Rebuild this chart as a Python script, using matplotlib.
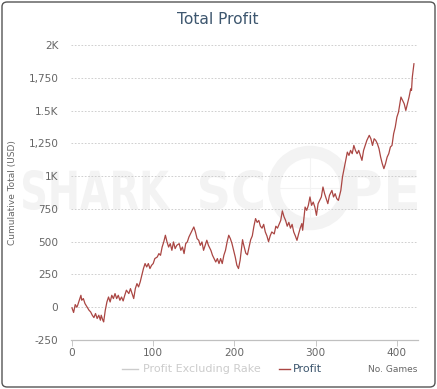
import matplotlib
matplotlib.use("Agg")

import matplotlib.pyplot as plt
from matplotlib.patches import FancyBboxPatch, PathPatch, Circle
from matplotlib.lines import Line2D
from matplotlib.textpath import TextPath
from matplotlib.font_manager import FontProperties
from matplotlib.transforms import Affine2D, IdentityTransform

# data (game number, cumulative profit in USD)
games = [0, 2, 4, 6, 7, 11, 12, 14, 16, 18,
         21, 23, 25, 27, 29, 31, 33, 35, 36, 38,
         39, 41, 43, 45, 47, 49, 51, 53, 55, 57,
         59, 61, 63, 65, 67, 70, 72, 74, 76, 78,
         80, 82, 84, 86, 88, 90, 92, 94, 96, 98,
         100, 102, 105, 107, 109, 111, 113, 115, 117, 119,
         121, 123, 125, 127, 129, 132, 134, 136, 138, 140,
         142, 144, 146, 148, 150, 152, 154, 156, 158, 160,
         162, 164, 166, 168, 171, 173, 175, 177, 179, 181,
         183, 185, 187, 189, 191, 193, 195, 197, 199, 201,
         203, 205, 207, 210, 211, 214, 216, 218, 220, 222,
         224, 226, 228, 230, 232, 234, 236, 238, 240, 242,
         244, 246, 249, 251, 253, 255, 257, 259, 261, 263,
         265, 267, 269, 271, 273, 275, 277, 279, 281, 283,
         284, 287, 289, 291, 293, 295, 297, 299, 301, 303,
         305, 307, 309, 311, 313, 315, 317, 320, 322, 324,
         326, 328, 330, 331, 333, 335, 337, 339, 341, 343,
         345, 347, 349, 351, 353, 355, 357, 359, 361, 363,
         366, 368, 370, 372, 374, 376, 378, 380, 382, 384,
         386, 388, 390, 392, 394, 396, 398, 400, 402, 405,
         407, 409, 411, 413, 415, 417, 418, 419, 421]

profit = [-5, -40, 20, 0, 15, 91, 53, 66, 28, 8,
          -23, -36, -61, -79, -48, -86, -61, -99, -61, -99,
          -112, -23, 40, 78, 40, 91, 66, 104, 66, 91,
          53, 78, 48, 91, 130, 104, 142, 104, 66, 142,
          180, 155, 193, 244, 295, 333, 307, 333, 295, 320,
          333, 371, 383, 409, 396, 459, 498, 549, 498, 459,
          485, 434, 498, 447, 472, 485, 434, 459, 409, 485,
          498, 536, 562, 587, 612, 574, 523, 511, 472, 498,
          434, 472, 511, 472, 434, 396, 371, 345, 371, 333,
          371, 333, 396, 434, 498, 549, 523, 485, 434, 383,
          320, 295, 358, 515, 485, 412, 400, 456, 515, 544,
          618, 676, 647, 662, 618, 603, 632, 574, 544, 500,
          544, 574, 559, 618, 603, 632, 662, 735, 691, 662,
          618, 647, 603, 632, 574, 544, 510, 559, 603, 638,
          587, 764, 739, 777, 841, 777, 802, 764, 701, 790,
          815, 841, 917, 866, 828, 790, 853, 891, 841, 866,
          828, 815, 866, 891, 993, 1057, 1120, 1183, 1158, 1196,
          1171, 1234, 1196, 1171, 1196, 1158, 1120, 1196, 1234, 1272,
          1311, 1285, 1234, 1285, 1272, 1247, 1209, 1145, 1095, 1057,
          1095, 1145, 1171, 1222, 1234, 1323, 1374, 1450, 1488, 1603,
          1577, 1552, 1501, 1552, 1603, 1666, 1654, 1755, 1857]

y_ticks = [-250, 0, 250, 500, 750, 1000, 1250, 1500, 1750, 2000]
y_tick_labels = ["-250", "0", "250", "500", "750", "1K", "1,250", "1.5K", "1,750", "2K"]
x_ticks = [0, 100, 200, 300, 400]

W, H = 437, 389
TITLE_C = "#3E576F"
LABEL_C = "#666666"
RED = "#AA4643"
WM = "#F3F3F3"

fig = plt.figure(figsize=(W / 100, H / 100), dpi=100)
fig.patch.set_facecolor("white")

# rounded outer frame
frame = FancyBboxPatch((2 / W, 2 / H), (W - 4) / W, (H - 4) / H,
                       boxstyle="round,pad=0,rounding_size=0.012",
                       transform=fig.transFigure, facecolor="none",
                       edgecolor="#555555", linewidth=1.0, zorder=5)
fig.add_artist(frame)


# ---- watermark (drawn in pixel coordinates, y measured from top) ----
def wm_text(s, x0, x1, ytop, ybot):
    tp = TextPath((0, 0), s, size=100, prop=FontProperties(family="DejaVu Sans", weight="bold"))
    bb = tp.get_extents()
    sx = (x1 - x0) / bb.width
    sy = (ybot - ytop) / bb.height
    tr = Affine2D().translate(-bb.x0, -bb.y0).scale(sx, sy).translate(x0, H - ybot)
    p = PathPatch(tr.transform_path(tp), facecolor=WM, edgecolor="none",
                  transform=IdentityTransform(), zorder=-2)
    fig.add_artist(p)


wm_text("SHARK", 23, 170, 170, 210)
wm_text("SC", 200, 263, 170, 210)
wm_text("PE", 347, 417, 170, 210)
ring = Circle((310, H - 188), 36, facecolor="none", edgecolor=WM,
              linewidth=9, transform=IdentityTransform(), zorder=-2)
fig.add_artist(ring)
for seg in [((310, 310), (H - 150, H - 226)), ((272, 348), (H - 188, H - 188))]:
    fig.add_artist(Line2D(seg[0], seg[1], color=WM, linewidth=0.8,
                          transform=IdentityTransform(), zorder=-2))

# ---- plot area ----
ax = fig.add_axes([71 / W, 1 - 340 / H, 347 / W, 295 / H])
ax.set_facecolor("none")

ax.plot(games, profit, color=RED, linewidth=0.9, zorder=3)

ax.set_xlim(-1.2, 426)
ax.set_ylim(-250, 2000)

ax.set_yticks(y_ticks)
ax.set_yticklabels(y_tick_labels)
ax.set_xticks(x_ticks)

ax.grid(axis="y", color="#C8C8C8", linestyle=(0, (2, 2)), linewidth=0.6)
ax.set_axisbelow(True)

for side in ["top", "right", "left"]:
    ax.spines[side].set_visible(False)
ax.spines["bottom"].set_color("#C0C0C0")
ax.spines["bottom"].set_linewidth(0.9)

ax.tick_params(axis="y", length=0, pad=9, labelsize=7.6, labelcolor=LABEL_C)
ax.tick_params(axis="x", length=4, width=0.7, color="#C8C8C8", pad=2,
               labelsize=7.6, labelcolor=LABEL_C)

ax.set_ylabel("Cumulative Total (USD)", fontsize=6.5, color=LABEL_C, labelpad=8)

fig.text(218 / W, 1 - 19 / H, "Total Profit", ha="center", va="center",
         fontsize=11.2, color=TITLE_C)

# legend, drawn by hand to match the layout
ly = 1 - 369 / H
fig.add_artist(Line2D([122 / W, 138 / W], [ly, ly], color="#CCCCCC", linewidth=1.0,
                      transform=fig.transFigure))
fig.text(143 / W, ly, "Profit Excluding Rake", ha="left", va="center",
         fontsize=8, color="#CCCCCC")
fig.add_artist(Line2D([279 / W, 290 / W], [ly, ly], color=RED, linewidth=1.0,
                      transform=fig.transFigure))
fig.text(293 / W, ly, "Profit", ha="left", va="center", fontsize=8, color=TITLE_C)
fig.text(417 / W, ly, "No. Games", ha="right", va="center", fontsize=6.5, color=LABEL_C)

fig.savefig("out.png", dpi=100)
